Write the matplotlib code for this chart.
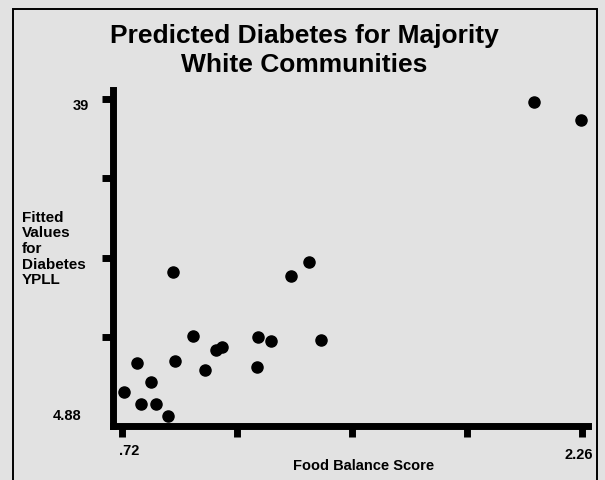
import matplotlib
matplotlib.use("Agg")
import matplotlib.pyplot as plt
from matplotlib import font_manager
from matplotlib.patches import Rectangle
import matplotlib.transforms as mtransforms

# ---- data ----
food_balance = [0.727, 0.769, 0.783, 0.816, 0.833, 0.873, 0.890, 0.898, 0.957,
                0.999, 1.034, 1.055, 1.171, 1.175, 1.220, 1.287, 1.346, 1.387,
                2.100, 2.257]
fitted_ypll = [7.53, 10.58, 6.17, 8.54, 6.17, 4.88, 20.43, 10.79, 13.48,
               9.86, 12.04, 12.33, 10.15, 13.37, 12.94, 20.00, 21.44, 13.05,
               38.71, 36.74]
x_ticks = [0.72, 1.105, 1.49, 1.875, 2.26]
y_ticks = [13.41, 21.94, 30.47, 39.0]
x_min_label, x_max_label = ".72", "2.26"
y_min_label, y_max_label = "4.88", "39"
y_min_val, y_max_val = 4.88, 39.0
title = "Predicted Diabetes for Majority\nWhite Communities"
ylabel = "Fitted\nValues\nfor\nDiabetes\nYPLL"
xlabel = "Food Balance Score"

names = {f.name for f in font_manager.fontManager.ttflist}
if "Liberation Sans Narrow" in names:
    title_font, title_size = "Liberation Sans Narrow", 22
else:
    title_font, title_size = "Liberation Sans", 19

bg = "#e2e2e2"
W, H = 605, 481
fig = plt.figure(figsize=(W / 100, H / 100), dpi=100, facecolor=bg)

# outer frame
fig.patches.append(Rectangle((13 / W, -0.05), (597 - 13) / W, 1.05 - 10 / H,
                             transform=fig.transFigure, fill=False,
                             edgecolor="black", linewidth=1.4))

ax = fig.add_axes([113 / W, 1 - 427 / H, (588 - 113) / W, (427 - 91) / H])
ax.set_facecolor("none")
ax.scatter(food_balance, fitted_ypll, s=64, color="black", zorder=3,
           clip_on=False)

ax.set_xlim(0.690, 2.280)
ax.set_ylim(3.84, 39.97)
for s in ["top", "right"]:
    ax.spines[s].set_visible(False)
for s in ["left", "bottom"]:
    ax.spines[s].set_linewidth(5)
    ax.spines[s].set_capstyle("projecting")

ax.set_xticks(x_ticks)
ax.set_yticks(y_ticks)
ax.set_xticklabels([])
ax.set_yticklabels([])
ax.tick_params(axis="both", direction="out", length=8, width=5, color="black")

tf = dict(fontsize=10.5, fontweight="bold", family="Liberation Sans")
# y end labels
ty = mtransforms.blended_transform_factory(ax.transAxes, ax.transData)
ax.annotate(y_max_label, xy=(0, y_max_val), xycoords=ty, xytext=(-17, -4),
            textcoords="offset points", ha="right", va="center", **tf)
ax.annotate(y_min_label, xy=(0, y_min_val), xycoords=ty, xytext=(-23, 1),
            textcoords="offset points", ha="right", va="center", **tf)
# x end labels
tx = mtransforms.blended_transform_factory(ax.transData, ax.transAxes)
ax.annotate(x_min_label, xy=(x_ticks[0], 0), xycoords=tx, xytext=(5, -17),
            textcoords="offset points", ha="center", va="center", **tf)
ax.annotate(x_max_label, xy=(x_ticks[-1], 0), xycoords=tx, xytext=(8, -20),
            textcoords="offset points", ha="right", va="center", **tf)

fig.text(304 / W, 1 - 72 / H, title, ha="center", va="baseline",
         fontsize=title_size, fontweight="bold", family=title_font,
         linespacing=1.27)
fig.text(22 / W, 1 - 249 / H, ylabel, ha="left", va="center",
         fontsize=11, fontweight="bold", family="Liberation Sans",
         linespacing=1.15)
fig.text(293 / W, 1 - 466 / H, xlabel, ha="left", va="center",
         fontsize=10.5, fontweight="bold", family="Liberation Sans")

fig.savefig("out.png", dpi=100, facecolor=bg)
